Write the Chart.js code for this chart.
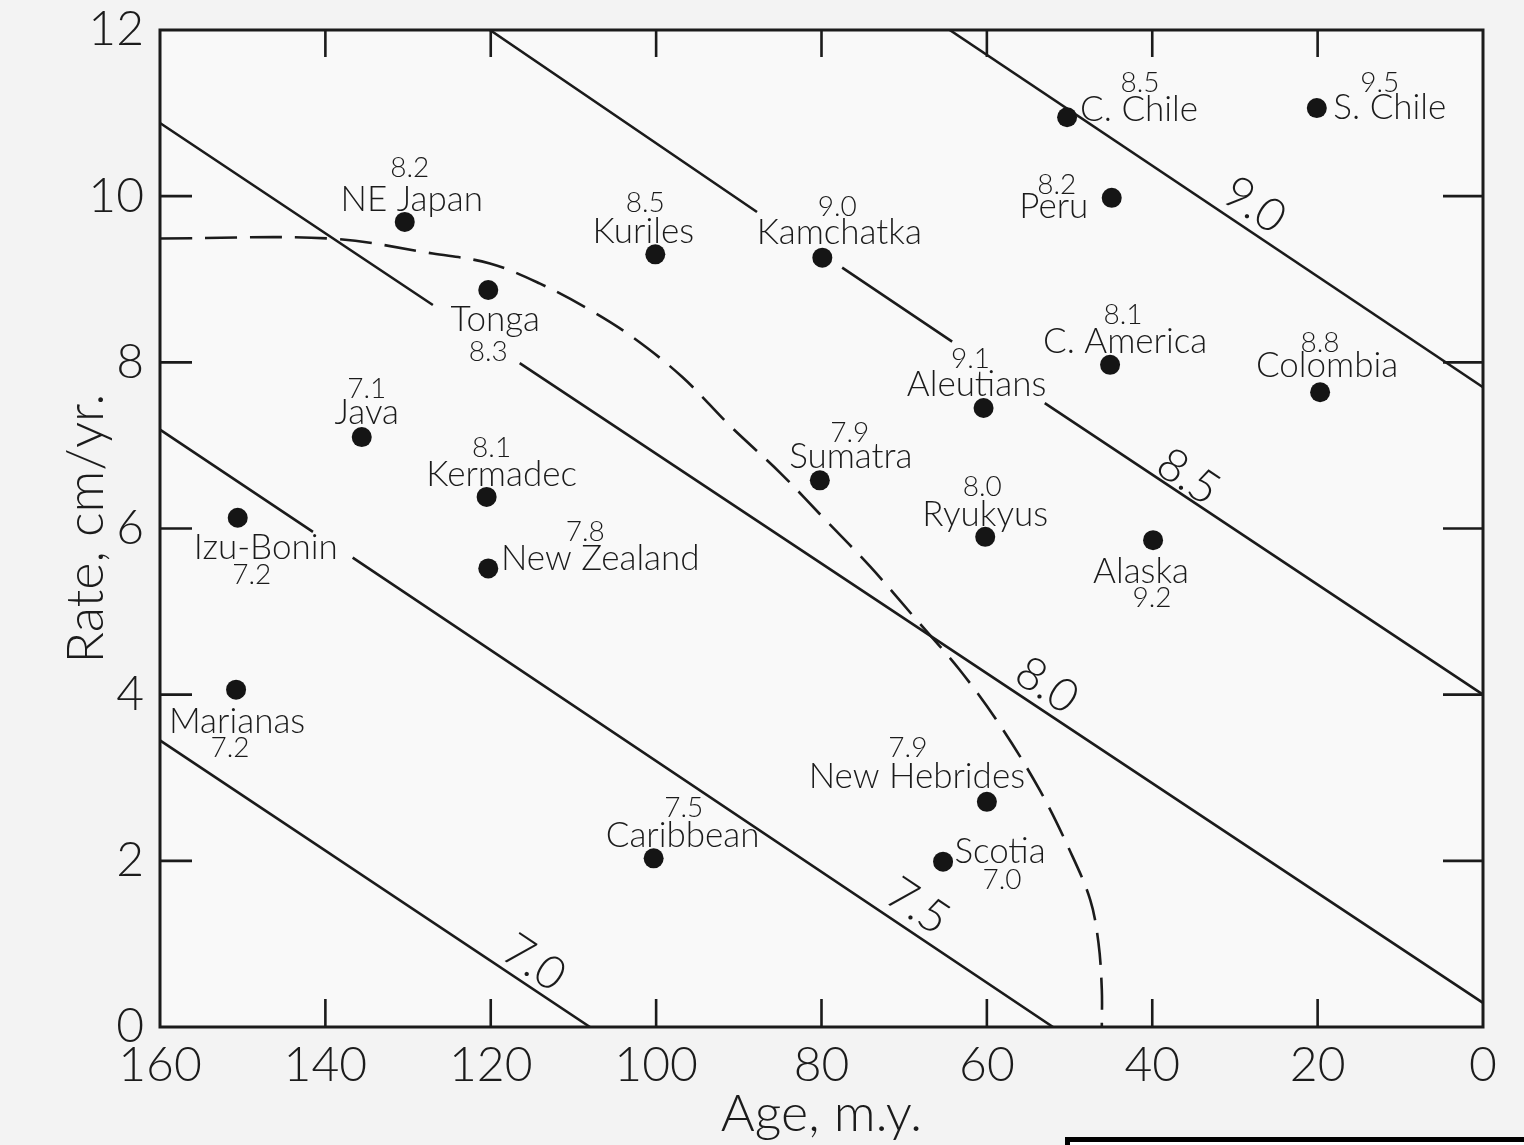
<!DOCTYPE html>
<html>
<head>
<meta charset="utf-8">
<script src="https://cdn.jsdelivr.net/npm/chart.js@4.4.1/dist/chart.umd.min.js"></script>
<style>
  html, body { margin: 0; padding: 0; background: #f3f3f3; }
  #wrap { position: relative; width: 1524px; height: 1145px; }
  #box { position: absolute; left: 1065px; top: 1137px; width: 470px; height: 20px; border: 5px solid #000; background: #fff; }
</style>
</head>
<body>
<div id="wrap">
  <canvas id="rateAgeChart" width="1524" height="1145"></canvas>
  <div id="box"></div>
</div>
<script>
// subduction zones: age of subducting plate (m.y.), convergence rate (cm/yr), max magnitude
const zones = ['NE Japan', 'Kuriles', 'Kamchatka', 'Tonga', 'C. Chile', 'S. Chile', 'Peru',
    'C. America', 'Colombia', 'Aleutians', 'Java', 'Kermadec', 'Sumatra', 'Ryukyus', 'Alaska',
    'Izu-Bonin', 'New Zealand', 'Marianas', 'New Hebrides', 'Caribbean', 'Scotia'];
const ages  = [130.4, 100.1, 79.9, 120.3, 50.3, 20.1, 44.9, 45.1, 19.7, 60.4, 135.6, 120.5, 80.2, 60.2, 39.9, 150.6, 120.3, 150.8, 60.0, 100.3, 65.3];
const rates = [9.69, 9.30, 9.26, 8.87, 10.95, 11.06, 9.98, 7.97, 7.64, 7.45, 7.10, 6.38, 6.58, 5.90, 5.86, 6.13, 5.52, 4.06, 2.71, 2.03, 1.99];
const mags  = ['8.2', '8.5', '9.0', '8.3', '8.5', '9.5', '8.2', '8.1', '8.8', '9.1', '7.1', '8.1', '7.9', '8.0', '9.2', '7.2', '7.8', '7.2', '7.9', '7.5', '7.0'];

// magnitude contours, as [age, rate] segment end points
const contourLevels = ['9.0', '8.5', '8.0', '7.5', '7.0'];
const contourSegments = [
    [[[64.5, 12], [0, 7.70]]],
    [[[120.1, 12], [87.8, 9.81]], [[77.5, 9.14], [64.2, 8.25]], [[53.0, 7.51], [0, 4.00]]],
    [[[160, 10.88], [127.0, 8.69]], [[116.5, 7.99], [0, 0.29]]],
    [[[160, 7.19], [141.5, 5.96]], [[136.7, 5.65], [52.0, 0]]],
    [[[160, 3.45], [108.0, 0]]]
];
const contourLabelAge  = [28.2, 36.2, 53.3, 68.9, 115.3];
const contourLabelRate = [9.81, 6.54, 4.03, 1.37, 0.69];

// dashed boundary curve
const boundaryAge  = [160, 139.4, 127.0, 120.1, 114.1, 108.0, 102.8, 96.8, 91.1, 85.0, 79.3, 74.1, 68.5, 63.3, 58.4, 53.6, 50.0, 47.5, 46.5, 46.1, 46.1];
const boundaryRate = [9.49, 9.49, 9.31, 9.19, 8.95, 8.63, 8.30, 7.82, 7.24, 6.67, 6.08, 5.54, 4.90, 4.30, 3.63, 2.85, 2.13, 1.53, 1.01, 0.45, 0];

const xTicks = [160, 140, 120, 100, 80, 60, 40, 20, 0];
const yTicks = [0, 2, 4, 6, 8, 10, 12];

(function(){
    const ink = '#1b1b1b';
    const fontFam = 'Lato, "Open Sans", sans-serif';

    // label placement, pixel offsets from the dot: [nameDx, nameDy, magDx, magDy]
    const labelOffsets = {
        'NE Japan': [7, -22, 5, -54], 'Kuriles': [-12, -23, -10, -51], 'Kamchatka': [17, -25, 15, -51],
        'Tonga': [7, 30, 0, 62], 'C. Chile': [72, -8, 73, -34], 'S. Chile': [73, 0, 63, -25],
        'Peru': [-58, 9, -55, -13], 'C. America': [15, -23, 13, -50], 'Colombia': [7, -27, 0, -49],
        'Aleutians': [-7, -23, -13, -49], 'Java': [5, -24, 5, -48], 'Kermadec': [15, -22, 5, -49],
        'Sumatra': [31, -24, 30, -47], 'Ryukyus': [0, -22, -3, -50], 'Alaska': [-12, 32, -1, 58],
        'Izu-Bonin': [28, 30, 14, 57], 'New Zealand': [112, -10, 97, -36], 'Marianas': [1, 32, -6, 58],
        'New Hebrides': [-70, -25, -79, -54], 'Caribbean': [29, -23, 30, -50], 'Scotia': [57, -10, 59, 18]
    };

    let datasets = [];

    contourSegments.forEach(function(segs, i){
        let pts = [];
        segs.forEach(function(seg, j){
            if(j > 0){
                pts.push({x: seg[0][0], y: null});
            }
            pts.push({x: seg[0][0], y: seg[0][1]});
            pts.push({x: seg[1][0], y: seg[1][1]});
        });
        datasets.push({
            label: 'M ' + contourLevels[i],
            data: pts,
            showLine: true,
            spanGaps: false,
            borderColor: ink,
            borderWidth: 2.6,
            pointRadius: 0,
            order: 2
        });
    });

    datasets.push({
        label: 'boundary',
        data: boundaryAge.map(function(a, i){ return {x: a, y: boundaryRate[i]}; }),
        showLine: true,
        borderColor: ink,
        borderWidth: 2.6,
        borderDash: [32, 13],
        tension: 0.35,
        pointRadius: 0,
        order: 2
    });

    datasets.push({
        label: 'zones',
        data: ages.map(function(a, i){ return {x: a, y: rates[i]}; }),
        showLine: false,
        pointRadius: 10,
        pointBackgroundColor: '#151515',
        pointBorderWidth: 0,
        order: 1
    });

    const paperPlugin = {
        id: 'paper',
        beforeDraw: function(chart){
            const c = chart.ctx, a = chart.chartArea;
            c.save();
            c.fillStyle = '#f3f3f3';
            c.fillRect(0, 0, chart.width, chart.height);
            c.fillStyle = '#f9f9f9';
            c.fillRect(a.left, a.top, a.right - a.left, a.bottom - a.top);
            c.restore();
        }
    };

    const framePlugin = {
        id: 'frame',
        afterDatasetsDraw: function(chart){
            const c = chart.ctx, a = chart.chartArea;
            const xs = chart.scales.x, ys = chart.scales.y;
            c.save();
            c.strokeStyle = ink;
            c.lineWidth = 3;
            c.strokeRect(a.left, a.top, a.right - a.left, a.bottom - a.top);
            c.lineWidth = 2.6;
            c.beginPath();
            xTicks.forEach(function(v){
                if(v === 0 || v === 160) return;
                let px = xs.getPixelForValue(v);
                c.moveTo(px, a.top); c.lineTo(px, a.top + 27);
                c.moveTo(px, a.bottom); c.lineTo(px, a.bottom - 28);
            });
            yTicks.forEach(function(v){
                if(v === 0 || v === 12) return;
                let py = ys.getPixelForValue(v);
                c.moveTo(a.left, py); c.lineTo(a.left + 32, py);
                c.moveTo(a.right, py); c.lineTo(a.right - 40, py);
            });
            c.stroke();
            c.restore();
        }
    };

    const labelPlugin = {
        id: 'zoneLabels',
        afterDatasetsDraw: function(chart){
            const c = chart.ctx;
            const xs = chart.scales.x, ys = chart.scales.y;
            c.save();
            c.fillStyle = ink;
            c.textAlign = 'center';
            c.textBaseline = 'middle';
            zones.forEach(function(name, i){
                let px = xs.getPixelForValue(ages[i]);
                let py = ys.getPixelForValue(rates[i]);
                let o = labelOffsets[name];
                c.font = '300 35px ' + fontFam;
                c.fillText(name, px + o[0], py + o[1]);
                c.font = '300 28px ' + fontFam;
                c.fillText(mags[i], px + o[2], py + o[3]);
            });
            // contour magnitudes, set along the lines, sitting just above them
            const ang = Math.atan2(ys.getPixelForValue(0) - ys.getPixelForValue(3.45), xs.getPixelForValue(108) - xs.getPixelForValue(160));
            c.font = '300 46px ' + fontFam;
            contourLevels.forEach(function(lv, i){
                let px = xs.getPixelForValue(contourLabelAge[i]);
                let py = ys.getPixelForValue(contourLabelRate[i]);
                c.save();
                c.translate(px, py);
                c.rotate(ang);
                c.fillText(lv, 0, -8);
                c.restore();
            });
            c.restore();
        }
    };

    let ctx = document.getElementById('rateAgeChart');
    let rateAgeChart = new Chart(ctx, {
        type: 'scatter',
        data: { datasets: datasets },
        options: {
            responsive: false,
            animation: false,
            layout: { padding: { top: 30, right: 41, left: 40, bottom: 0 } },
            plugins: {
                legend: { display: false },
                tooltip: { enabled: false }
            },
            scales: {
                x: {
                    type: 'linear',
                    reverse: true,
                    min: 0,
                    max: 160,
                    grid: { display: false, drawTicks: false },
                    border: { display: false },
                    ticks: {
                        stepSize: 20,
                        padding: 10,
                        color: ink,
                        font: { family: fontFam, size: 48, weight: 300 }
                    },
                    title: {
                        display: true,
                        text: 'Age, m.y.',
                        color: ink,
                        padding: { top: 0, bottom: 0 },
                        font: { family: fontFam, size: 52, weight: 300, lineHeight: 1.2 }
                    },
                    afterFit: function(scale){
                        scale.height = 118;
                        scale.paddingLeft = 0;
                        scale.paddingRight = 0;
                    }
                },
                y: {
                    type: 'linear',
                    min: 0,
                    max: 12,
                    grid: { display: false, drawTicks: false },
                    border: { display: false },
                    ticks: {
                        stepSize: 2,
                        padding: 16,
                        color: ink,
                        font: { family: fontFam, size: 48, weight: 300 }
                    },
                    title: {
                        display: true,
                        text: 'Rate, cm/yr.',
                        color: ink,
                        padding: { top: 15, bottom: 0 },
                        font: { family: fontFam, size: 52, weight: 300, lineHeight: 1.2 }
                    },
                    afterFit: function(scale){
                        scale.width = 120;
                        scale.paddingTop = 0;
                        scale.paddingBottom = 0;
                    }
                }
            }
        },
        plugins: [paperPlugin, framePlugin, labelPlugin]
    });
})();
</script>
</body>
</html>
